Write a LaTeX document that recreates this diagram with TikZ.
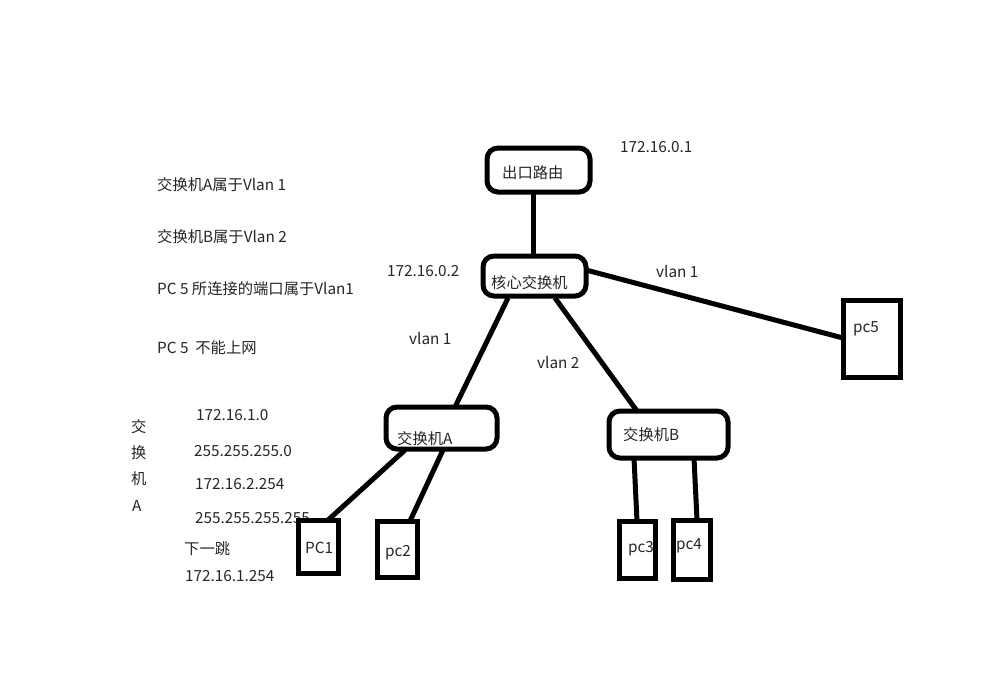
\documentclass[tikz,border=0pt]{standalone}
\usepackage{fontspec}
\setmainfont{Noto Sans CJK SC}
\begin{document}
\begin{tikzpicture}[x=1pt,y=-1pt,
  rbox/.style={draw=black,line width=5pt,rounded corners=11pt,fill=white},
  pbox/.style={draw=black,line width=5pt,fill=white},
  wire/.style={draw=black,line width=5pt},
  lbl/.style={font=\fontsize{15.3}{18}\selectfont,inner sep=0pt,text=black!85},
  lft/.style={lbl,anchor=west}]
\useasboundingbox[fill=white] (0,0) rectangle (986,683);
% links first
\coordinate (r1) at (533,192); \coordinate (c1) at (533,256);
\coordinate (c2) at (586,270); \coordinate (p5a) at (843,338);
\coordinate (c3) at (508,298); \coordinate (a1) at (455,407);
\coordinate (c4) at (555,298); \coordinate (b1) at (637,411);
\coordinate (a2) at (405,450); \coordinate (p1a) at (327,521);
\coordinate (a3) at (443,450); \coordinate (p2a) at (410,521);
\coordinate (b2) at (634,458); \coordinate (p3a) at (637,521);
\coordinate (b3) at (694,458); \coordinate (p4a) at (697,520);
\draw[wire] (r1) -- (c1);
\draw[wire] (c2) -- (p5a);
\draw[wire] (c3) -- (a1);
\draw[wire] (c4) -- (b1);
\draw[wire] (a2) -- (p1a);
\draw[wire] (a3) -- (p2a);
\draw[wire] (b2) -- (p3a);
\draw[wire] (b3) -- (p4a);
% left notes
\node[lft] (n1) at (157,185) {交换机A属于Vlan 1};
\node[lft] (n2) at (157,237) {交换机B属于Vlan 2};
\node[lft] (n3) at (157,289) {PC 5 所连接的端口属于Vlan1};
\node[lft] (n4) at (157,348) {PC 5 \ 不能上网};
\node[lft] (v1) at (131,427) {交};
\node[lft] (v2) at (131,453) {换};
\node[lft] (v3) at (131,479) {机};
\node[lft] (v4) at (132,506) {A};
\node[lft] (t1) at (196,415) {172.16.1.0};
\node[lft] (t2) at (194,451) {255.255.255.0};
\node[lft] (t3) at (195,484) {172.16.2.254};
\node[lft] (t4) at (195,518) {255.255.255.255};
\node[lft] (t5) at (184,549) {下一跳};
\node[lft] (t6) at (185,576) {172.16.1.254};
% boxes
\path[rbox] (487,148) rectangle (590,192);
\path[rbox] (483,256) rectangle (586,296);
\path[rbox] (386,407) rectangle (497,449);
\path[rbox] (609,411) rectangle (728,458);
\path[pbox] (298,520) rectangle (338,573);
\path[pbox] (377,521) rectangle (417,577);
\path[pbox] (843,300) rectangle (900,377);
\node[lft] (rt) at (502,173) {出口路由};
\node[lft] (co) at (491,283) {核心交换机};
\node[lft] (sa) at (397,439) {交换机A};
\node[lft] (sb) at (623,435) {交换机B};
\node[lft] (pc1) at (305,548) {PC1};
\node[lft] (pc2) at (385,553) {pc2};
\node[lft] (pc3) at (628,549) {pc3};
\node[lft] (pc4) at (676,546) {pc4};
\node[lft] (pc5) at (853,329) {pc5};
\draw[pbox,fill=none] (619,521) rectangle (655,578);
\draw[pbox,fill=none] (673,520) rectangle (710,579);
% labels
\node[lft] (ip1) at (620,147) {172.16.0.1};
\node[lft] (ip2) at (387,271) {172.16.0.2};
\node[lft] (vl1) at (656,272) {vlan 1};
\node[lft] (vl2) at (409,339) {vlan 1};
\node[lft] (vl3) at (537,363) {vlan 2};
\end{tikzpicture}
\end{document}
